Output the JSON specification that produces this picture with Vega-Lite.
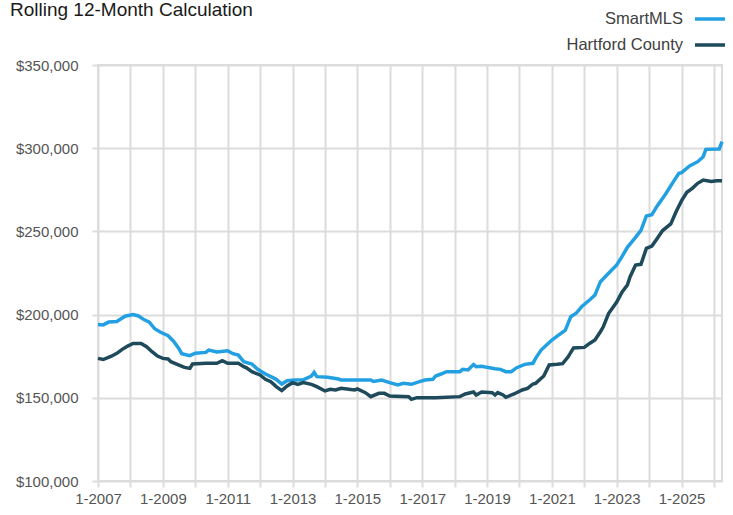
{
  "$schema": "https://vega.github.io/schema/vega-lite/v6.json",
  "width": 624,
  "height": 416,
  "autosize": {"type": "none"},
  "padding": {"left": 98, "top": 65, "right": 11, "bottom": 34},
  "background": "white",
  "title": {"text": "Rolling 12-Month Calculation", "anchor": "start", "frame": "group", "dx": -88, "offset": 0, "dy": 18, "fontSize": 19, "fontWeight": "normal", "font": "Liberation Sans", "color": "#1a1a1a"},
  "config": {
    "view": {"stroke": "#dcdcdc", "strokeWidth": 2},
    "axis": {"gridColor": "#dcdcdc", "gridWidth": 2, "tickColor": "#dcdcdc", "tickWidth": 2, "tickSize": 6, "domain": false, "labelFont": "Liberation Sans", "labelFontSize": 15, "labelColor": "#555555", "title": null},
    "legend": {"orient": "none", "legendX": 595, "legendY": -63, "title": null, "labelAlign": "right", "labelOffset": -44, "symbolType": "stroke", "symbolSize": 900, "symbolStrokeWidth": 3.5, "labelFontSize": 16.5, "labelFont": "Liberation Sans", "labelColor": "#404040", "rowPadding": -5, "padding": 0}
  },
  "data": {"values": [
    {"date": "2007-01-01", "series": "SmartMLS", "value": 194000},
    {"date": "2007-03-01", "series": "SmartMLS", "value": 193800},
    {"date": "2007-05-01", "series": "SmartMLS", "value": 195500},
    {"date": "2007-08-01", "series": "SmartMLS", "value": 195800},
    {"date": "2007-11-01", "series": "SmartMLS", "value": 199000},
    {"date": "2008-02-01", "series": "SmartMLS", "value": 200000},
    {"date": "2008-04-01", "series": "SmartMLS", "value": 199200},
    {"date": "2008-06-01", "series": "SmartMLS", "value": 197000},
    {"date": "2008-08-01", "series": "SmartMLS", "value": 195500},
    {"date": "2008-10-01", "series": "SmartMLS", "value": 191500},
    {"date": "2008-12-01", "series": "SmartMLS", "value": 189500},
    {"date": "2009-03-01", "series": "SmartMLS", "value": 187300},
    {"date": "2009-05-01", "series": "SmartMLS", "value": 184000},
    {"date": "2009-07-01", "series": "SmartMLS", "value": 179500},
    {"date": "2009-08-01", "series": "SmartMLS", "value": 176500},
    {"date": "2009-11-01", "series": "SmartMLS", "value": 175300},
    {"date": "2010-01-01", "series": "SmartMLS", "value": 176800},
    {"date": "2010-05-01", "series": "SmartMLS", "value": 177300},
    {"date": "2010-06-01", "series": "SmartMLS", "value": 178700},
    {"date": "2010-09-01", "series": "SmartMLS", "value": 177500},
    {"date": "2011-01-01", "series": "SmartMLS", "value": 178300},
    {"date": "2011-03-01", "series": "SmartMLS", "value": 176500},
    {"date": "2011-05-01", "series": "SmartMLS", "value": 175700},
    {"date": "2011-07-01", "series": "SmartMLS", "value": 171700},
    {"date": "2011-10-01", "series": "SmartMLS", "value": 170300},
    {"date": "2011-12-01", "series": "SmartMLS", "value": 167300},
    {"date": "2012-03-01", "series": "SmartMLS", "value": 164300},
    {"date": "2012-05-01", "series": "SmartMLS", "value": 162700},
    {"date": "2012-07-01", "series": "SmartMLS", "value": 161100},
    {"date": "2012-09-01", "series": "SmartMLS", "value": 158300},
    {"date": "2012-11-01", "series": "SmartMLS", "value": 160300},
    {"date": "2013-02-01", "series": "SmartMLS", "value": 160700},
    {"date": "2013-05-01", "series": "SmartMLS", "value": 160800},
    {"date": "2013-08-01", "series": "SmartMLS", "value": 163100},
    {"date": "2013-09-01", "series": "SmartMLS", "value": 165300},
    {"date": "2013-10-01", "series": "SmartMLS", "value": 162700},
    {"date": "2014-02-01", "series": "SmartMLS", "value": 162400},
    {"date": "2014-06-01", "series": "SmartMLS", "value": 161300},
    {"date": "2014-07-01", "series": "SmartMLS", "value": 160700},
    {"date": "2015-06-01", "series": "SmartMLS", "value": 160700},
    {"date": "2015-07-01", "series": "SmartMLS", "value": 159800},
    {"date": "2015-10-01", "series": "SmartMLS", "value": 160700},
    {"date": "2016-01-01", "series": "SmartMLS", "value": 159100},
    {"date": "2016-04-01", "series": "SmartMLS", "value": 157800},
    {"date": "2016-06-01", "series": "SmartMLS", "value": 158700},
    {"date": "2016-09-01", "series": "SmartMLS", "value": 158100},
    {"date": "2016-12-01", "series": "SmartMLS", "value": 159700},
    {"date": "2017-02-01", "series": "SmartMLS", "value": 160700},
    {"date": "2017-05-01", "series": "SmartMLS", "value": 161100},
    {"date": "2017-06-01", "series": "SmartMLS", "value": 163100},
    {"date": "2017-08-01", "series": "SmartMLS", "value": 164300},
    {"date": "2017-10-01", "series": "SmartMLS", "value": 165700},
    {"date": "2018-03-01", "series": "SmartMLS", "value": 165700},
    {"date": "2018-04-01", "series": "SmartMLS", "value": 167100},
    {"date": "2018-06-01", "series": "SmartMLS", "value": 166700},
    {"date": "2018-08-01", "series": "SmartMLS", "value": 170000},
    {"date": "2018-09-01", "series": "SmartMLS", "value": 168700},
    {"date": "2018-11-01", "series": "SmartMLS", "value": 169000},
    {"date": "2019-01-01", "series": "SmartMLS", "value": 168300},
    {"date": "2019-04-01", "series": "SmartMLS", "value": 167500},
    {"date": "2019-06-01", "series": "SmartMLS", "value": 167100},
    {"date": "2019-08-01", "series": "SmartMLS", "value": 165700},
    {"date": "2019-10-01", "series": "SmartMLS", "value": 165700},
    {"date": "2019-12-01", "series": "SmartMLS", "value": 168100},
    {"date": "2020-03-01", "series": "SmartMLS", "value": 170100},
    {"date": "2020-06-01", "series": "SmartMLS", "value": 170700},
    {"date": "2020-07-01", "series": "SmartMLS", "value": 173700},
    {"date": "2020-09-01", "series": "SmartMLS", "value": 178700},
    {"date": "2020-11-01", "series": "SmartMLS", "value": 181700},
    {"date": "2021-01-01", "series": "SmartMLS", "value": 184700},
    {"date": "2021-03-01", "series": "SmartMLS", "value": 187100},
    {"date": "2021-06-01", "series": "SmartMLS", "value": 190700},
    {"date": "2021-08-01", "series": "SmartMLS", "value": 198700},
    {"date": "2021-10-01", "series": "SmartMLS", "value": 200800},
    {"date": "2021-12-01", "series": "SmartMLS", "value": 204700},
    {"date": "2022-03-01", "series": "SmartMLS", "value": 208800},
    {"date": "2022-05-01", "series": "SmartMLS", "value": 211800},
    {"date": "2022-07-01", "series": "SmartMLS", "value": 219800},
    {"date": "2022-10-01", "series": "SmartMLS", "value": 224800},
    {"date": "2023-01-01", "series": "SmartMLS", "value": 229800},
    {"date": "2023-03-01", "series": "SmartMLS", "value": 234800},
    {"date": "2023-05-01", "series": "SmartMLS", "value": 240400},
    {"date": "2023-08-01", "series": "SmartMLS", "value": 246400},
    {"date": "2023-10-01", "series": "SmartMLS", "value": 250600},
    {"date": "2023-12-01", "series": "SmartMLS", "value": 259300},
    {"date": "2024-02-01", "series": "SmartMLS", "value": 260000},
    {"date": "2024-04-01", "series": "SmartMLS", "value": 265300},
    {"date": "2024-07-01", "series": "SmartMLS", "value": 272200},
    {"date": "2024-10-01", "series": "SmartMLS", "value": 279900},
    {"date": "2024-12-01", "series": "SmartMLS", "value": 284900},
    {"date": "2025-01-01", "series": "SmartMLS", "value": 285300},
    {"date": "2025-04-01", "series": "SmartMLS", "value": 289300},
    {"date": "2025-07-01", "series": "SmartMLS", "value": 291900},
    {"date": "2025-09-01", "series": "SmartMLS", "value": 294900},
    {"date": "2025-10-01", "series": "SmartMLS", "value": 299300},
    {"date": "2026-03-01", "series": "SmartMLS", "value": 299500},
    {"date": "2026-04-01", "series": "SmartMLS", "value": 304000},
    {"date": "2007-01-01", "series": "Hartford County", "value": 173700},
    {"date": "2007-03-01", "series": "Hartford County", "value": 173000},
    {"date": "2007-06-01", "series": "Hartford County", "value": 175000},
    {"date": "2007-08-01", "series": "Hartford County", "value": 176700},
    {"date": "2007-10-01", "series": "Hartford County", "value": 179100},
    {"date": "2007-12-01", "series": "Hartford County", "value": 181100},
    {"date": "2008-02-01", "series": "Hartford County", "value": 182700},
    {"date": "2008-05-01", "series": "Hartford County", "value": 182700},
    {"date": "2008-07-01", "series": "Hartford County", "value": 180700},
    {"date": "2008-09-01", "series": "Hartford County", "value": 177700},
    {"date": "2008-11-01", "series": "Hartford County", "value": 175100},
    {"date": "2009-01-01", "series": "Hartford County", "value": 173700},
    {"date": "2009-03-01", "series": "Hartford County", "value": 173300},
    {"date": "2009-04-01", "series": "Hartford County", "value": 171700},
    {"date": "2009-07-01", "series": "Hartford County", "value": 169700},
    {"date": "2009-09-01", "series": "Hartford County", "value": 168300},
    {"date": "2009-11-01", "series": "Hartford County", "value": 167700},
    {"date": "2009-12-01", "series": "Hartford County", "value": 170300},
    {"date": "2010-05-01", "series": "Hartford County", "value": 170700},
    {"date": "2010-09-01", "series": "Hartford County", "value": 170700},
    {"date": "2010-11-01", "series": "Hartford County", "value": 172300},
    {"date": "2011-01-01", "series": "Hartford County", "value": 170700},
    {"date": "2011-05-01", "series": "Hartford County", "value": 170700},
    {"date": "2011-07-01", "series": "Hartford County", "value": 168700},
    {"date": "2011-08-01", "series": "Hartford County", "value": 168000},
    {"date": "2011-10-01", "series": "Hartford County", "value": 165700},
    {"date": "2012-01-01", "series": "Hartford County", "value": 163700},
    {"date": "2012-03-01", "series": "Hartford County", "value": 161100},
    {"date": "2012-05-01", "series": "Hartford County", "value": 159700},
    {"date": "2012-07-01", "series": "Hartford County", "value": 156700},
    {"date": "2012-09-01", "series": "Hartford County", "value": 154300},
    {"date": "2012-11-01", "series": "Hartford County", "value": 157100},
    {"date": "2013-01-01", "series": "Hartford County", "value": 159100},
    {"date": "2013-03-01", "series": "Hartford County", "value": 158100},
    {"date": "2013-05-01", "series": "Hartford County", "value": 159100},
    {"date": "2013-08-01", "series": "Hartford County", "value": 158100},
    {"date": "2013-10-01", "series": "Hartford County", "value": 156700},
    {"date": "2014-01-01", "series": "Hartford County", "value": 154100},
    {"date": "2014-03-01", "series": "Hartford County", "value": 155100},
    {"date": "2014-05-01", "series": "Hartford County", "value": 154700},
    {"date": "2014-07-01", "series": "Hartford County", "value": 155700},
    {"date": "2014-12-01", "series": "Hartford County", "value": 154700},
    {"date": "2015-01-01", "series": "Hartford County", "value": 155300},
    {"date": "2015-04-01", "series": "Hartford County", "value": 153100},
    {"date": "2015-06-01", "series": "Hartford County", "value": 150700},
    {"date": "2015-09-01", "series": "Hartford County", "value": 152700},
    {"date": "2015-11-01", "series": "Hartford County", "value": 152700},
    {"date": "2016-01-01", "series": "Hartford County", "value": 151100},
    {"date": "2016-08-01", "series": "Hartford County", "value": 150700},
    {"date": "2016-09-01", "series": "Hartford County", "value": 149100},
    {"date": "2016-11-01", "series": "Hartford County", "value": 150100},
    {"date": "2017-06-01", "series": "Hartford County", "value": 150100},
    {"date": "2018-03-01", "series": "Hartford County", "value": 150700},
    {"date": "2018-05-01", "series": "Hartford County", "value": 152300},
    {"date": "2018-08-01", "series": "Hartford County", "value": 153500},
    {"date": "2018-09-01", "series": "Hartford County", "value": 151700},
    {"date": "2018-11-01", "series": "Hartford County", "value": 153500},
    {"date": "2019-03-01", "series": "Hartford County", "value": 153100},
    {"date": "2019-04-01", "series": "Hartford County", "value": 151700},
    {"date": "2019-05-01", "series": "Hartford County", "value": 153100},
    {"date": "2019-07-01", "series": "Hartford County", "value": 151700},
    {"date": "2019-08-01", "series": "Hartford County", "value": 150300},
    {"date": "2019-11-01", "series": "Hartford County", "value": 152300},
    {"date": "2020-02-01", "series": "Hartford County", "value": 154700},
    {"date": "2020-04-01", "series": "Hartford County", "value": 155700},
    {"date": "2020-06-01", "series": "Hartford County", "value": 158300},
    {"date": "2020-07-01", "series": "Hartford County", "value": 158700},
    {"date": "2020-10-01", "series": "Hartford County", "value": 163100},
    {"date": "2020-12-01", "series": "Hartford County", "value": 169700},
    {"date": "2021-03-01", "series": "Hartford County", "value": 170100},
    {"date": "2021-05-01", "series": "Hartford County", "value": 170500},
    {"date": "2021-07-01", "series": "Hartford County", "value": 174500},
    {"date": "2021-09-01", "series": "Hartford County", "value": 180000},
    {"date": "2022-01-01", "series": "Hartford County", "value": 180300},
    {"date": "2022-03-01", "series": "Hartford County", "value": 182700},
    {"date": "2022-05-01", "series": "Hartford County", "value": 184700},
    {"date": "2022-07-01", "series": "Hartford County", "value": 189700},
    {"date": "2022-08-01", "series": "Hartford County", "value": 192500},
    {"date": "2022-10-01", "series": "Hartford County", "value": 200600},
    {"date": "2023-01-01", "series": "Hartford County", "value": 207500},
    {"date": "2023-03-01", "series": "Hartford County", "value": 213500},
    {"date": "2023-05-01", "series": "Hartford County", "value": 217800},
    {"date": "2023-06-01", "series": "Hartford County", "value": 222800},
    {"date": "2023-08-01", "series": "Hartford County", "value": 229800},
    {"date": "2023-10-01", "series": "Hartford County", "value": 230200},
    {"date": "2023-12-01", "series": "Hartford County", "value": 239800},
    {"date": "2024-02-01", "series": "Hartford County", "value": 241200},
    {"date": "2024-04-01", "series": "Hartford County", "value": 245800},
    {"date": "2024-06-01", "series": "Hartford County", "value": 250500},
    {"date": "2024-09-01", "series": "Hartford County", "value": 254500},
    {"date": "2024-11-01", "series": "Hartford County", "value": 262000},
    {"date": "2025-01-01", "series": "Hartford County", "value": 268500},
    {"date": "2025-03-01", "series": "Hartford County", "value": 273500},
    {"date": "2025-05-01", "series": "Hartford County", "value": 275900},
    {"date": "2025-07-01", "series": "Hartford County", "value": 278900},
    {"date": "2025-09-01", "series": "Hartford County", "value": 280900},
    {"date": "2025-12-01", "series": "Hartford County", "value": 280000},
    {"date": "2026-02-01", "series": "Hartford County", "value": 280500},
    {"date": "2026-04-01", "series": "Hartford County", "value": 280500}
  ]},
  "encoding": {
    "x": {"field": "date", "type": "temporal",
      "scale": {"type": "utc", "domain": [{"year": 2007, "month": 1, "date": 1, "utc": true}, {"year": 2026, "month": 4, "date": 1, "utc": true}]},
      "axis": {"values": [
        {"year": 2007, "month": 1, "date": 1, "utc": true}, {"year": 2008, "month": 1, "date": 1, "utc": true}, {"year": 2009, "month": 1, "date": 1, "utc": true}, {"year": 2010, "month": 1, "date": 1, "utc": true},
        {"year": 2011, "month": 1, "date": 1, "utc": true}, {"year": 2012, "month": 1, "date": 1, "utc": true}, {"year": 2013, "month": 1, "date": 1, "utc": true}, {"year": 2014, "month": 1, "date": 1, "utc": true},
        {"year": 2015, "month": 1, "date": 1, "utc": true}, {"year": 2016, "month": 1, "date": 1, "utc": true}, {"year": 2017, "month": 1, "date": 1, "utc": true}, {"year": 2018, "month": 1, "date": 1, "utc": true},
        {"year": 2019, "month": 1, "date": 1, "utc": true}, {"year": 2020, "month": 1, "date": 1, "utc": true}, {"year": 2021, "month": 1, "date": 1, "utc": true}, {"year": 2022, "month": 1, "date": 1, "utc": true},
        {"year": 2023, "month": 1, "date": 1, "utc": true}, {"year": 2024, "month": 1, "date": 1, "utc": true}, {"year": 2025, "month": 1, "date": 1, "utc": true}, {"year": 2026, "month": 1, "date": 1, "utc": true}],
        "labelExpr": "utcyear(datum.value) % 2 == 1 ? '1-' + utcFormat(datum.value, '%Y') : ''",
        "labelPadding": 4, "labelFlush": false, "labelOverlap": false}},
    "y": {"field": "value", "type": "quantitative",
      "scale": {"domain": [100000, 350000], "nice": false, "zero": false},
      "axis": {"values": [100000, 150000, 200000, 250000, 300000, 350000], "format": "$,.0f", "labelPadding": 14}},
    "color": {"field": "series", "type": "nominal",
      "scale": {"domain": ["SmartMLS", "Hartford County"], "range": ["#22a0e2", "#1e4a5b"]}}
  },
  "layer": [
    {"transform": [{"filter": "datum.series == 'SmartMLS'"}], "mark": {"type": "line", "strokeWidth": 3.5}},
    {"transform": [{"filter": "datum.series == 'Hartford County'"}], "mark": {"type": "line", "strokeWidth": 3.5}}
  ]
}
